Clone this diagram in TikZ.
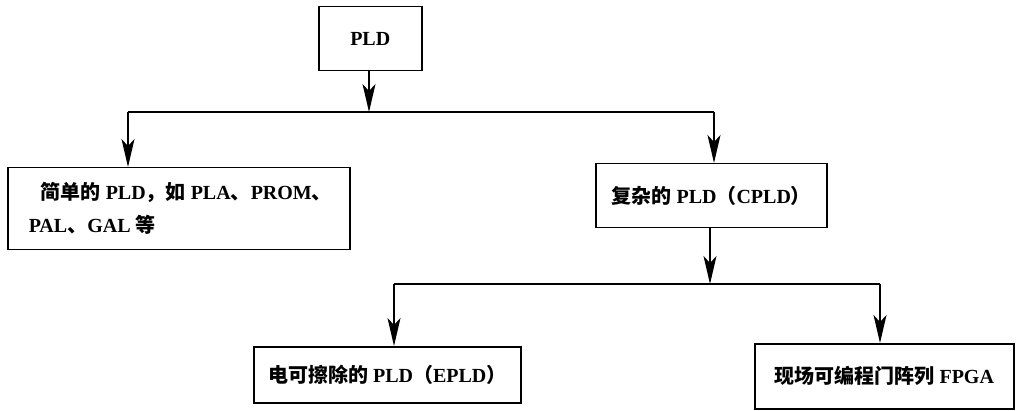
\documentclass[tikz,border=0pt]{standalone}
\usepackage{fontspec}
\setmainfont{Liberation Serif}
\newfontfamily\cjk{Noto Sans CJK SC}
\usetikzlibrary{arrows.meta}
\newcommand{\gap}{\kern5pt}
\begin{document}
\begin{tikzpicture}[x=1pt,y=-1pt,
  box/.style={draw, line width=1.5pt, inner sep=0pt, font=\fontsize{20}{33}\selectfont\bfseries},
  arr/.style={line width=1.5pt, -{Stealth[length=28pt,width=13pt,inset=7pt]}},
  ln/.style={line width=1.5pt}]
\useasboundingbox (0,0) rectangle (1016,411);
\node[box, anchor=north west, minimum width=103, minimum height=64] (pld) at (318,6) {PLD};
\node[box, anchor=north west, minimum width=342, minimum height=82, align=left, text width=310pt, inner xsep=16pt] (simple) at (7,167)
  {\hspace*{17pt}{\cjk 简单的}\gap PLD{\cjk ，如}\gap PLA{\cjk 、}PROM{\cjk 、}\\\hspace*{5pt}PAL{\cjk 、}GAL\gap{\cjk 等}};
\node[box, anchor=north west, minimum width=231, minimum height=64] (cpld) at (595,163) {{\cjk 复杂的}\gap PLD{\cjk （}CPLD{\cjk ）}};
\node[box, anchor=north west, minimum width=267, minimum height=56] (epld) at (253,346) {{\cjk 电可擦除的}\gap PLD{\cjk （}EPLD{\cjk ）}};
\node[box, anchor=north west, minimum width=259, minimum height=65] (fpga) at (754,343) {{\cjk 现场可编程门阵列}\gap FPGA};
% junctions
\coordinate (j1) at (369,112);
\coordinate (j1l) at (128,112);
\coordinate (j1r) at (714,112);
\coordinate (j2) at (710,284);
\coordinate (j2l) at (394,284);
\coordinate (j2r) at (880,284);
\draw[arr] (pld.south -| j1) -- (j1);
\draw[ln] (j1l) -- (j1r);
\draw[arr] (j1l) -- (j1l |- simple.north);
\draw[arr] (j1r) -- (j1r |- cpld.north);
\draw[arr] (cpld.south -| j2) -- (j2);
\draw[ln] (j2l) -- (j2r);
\draw[arr] (j2l) -- (j2l |- epld.north);
\draw[arr] (j2r) -- (j2r |- fpga.north);
\end{tikzpicture}
\end{document}
